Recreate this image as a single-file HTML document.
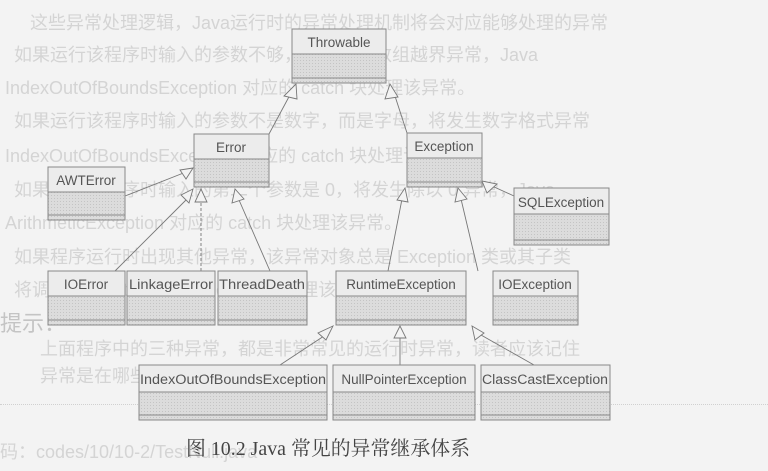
<!DOCTYPE html>
<html><head><meta charset="utf-8"><style>
html,body{margin:0;padding:0}
body{width:768px;height:471px;background:#f3f3f3;position:relative;overflow:hidden;font-family:"Liberation Sans","Noto Sans CJK SC",sans-serif}
.bg{position:absolute;left:0;color:#d4d4d4;font-size:18px;white-space:nowrap;font-family:"Liberation Sans","Noto Sans CJK SC",sans-serif}
svg{position:absolute;left:0;top:0}
</style></head><body>
<div class="bg" style="top:9px;left:30px">这些异常处理逻辑，Java运行时的异常处理机制将会对应能够处理的异常</div>
<div class="bg" style="top:41px;left:14px">如果运行该程序时输入的参数不够，将会发生数组越界异常，Java</div>
<div class="bg" style="top:74px;left:5px">IndexOutOfBoundsException 对应的 catch 块处理该异常。</div>
<div class="bg" style="top:107px;left:14px">如果运行该程序时输入的参数不是数字，而是字母，将发生数字格式异常</div>
<div class="bg" style="top:142px;left:5px">IndexOutOfBoundsException 对应的 catch 块处理该异常。</div>
<div class="bg" style="top:176px;left:14px">如果运行该程序时输入的第二个参数是 0，将发生除以 0 异常，Java</div>
<div class="bg" style="top:209px;left:5px">ArithmeticException 对应的 catch 块处理该异常。</div>
<div class="bg" style="top:243px;left:14px">如果程序运行时出现其他异常，该异常对象总是 Exception 类或其子类</div>
<div class="bg" style="top:276px;left:14px">将调用 Exception 对应的 catch 块处理该异常。</div>
<div class="bg" style="top:306px;left:0px;font-size:22px;color:#c4c4c4">提示：</div>
<div class="bg" style="top:335px;left:40px">上面程序中的三种异常，都是非常常见的运行时异常，读者应该记住</div>
<div class="bg" style="top:362px;left:40px">异常是在哪些情况下出现的。</div>
<div class="bg" style="top:438px;left:0px">码：codes/10/10-2/TestNull.java</div>
<div style="position:absolute;left:0;top:404px;width:768px;border-top:1px dotted #d0d0d0"></div>
<svg width="768" height="471" viewBox="0 0 768 471">
<defs>
<pattern id="h" width="3" height="3" patternUnits="userSpaceOnUse"><rect width="3" height="3" fill="#dcdcdc"/><rect width="1" height="1" fill="#c4c4c4"/></pattern>
</defs>
<g stroke="#777" stroke-width="0.9" fill="none">
<line x1="269" y1="134" x2="291" y2="93"/>
<line x1="407" y1="133" x2="394" y2="93"/>
<line x1="125" y1="196" x2="186" y2="172"/>
<line x1="115" y1="271" x2="187" y2="199"/>
<line x1="201" y1="271" x2="201" y2="200" stroke-dasharray="3,2"/>
<line x1="270" y1="271" x2="239" y2="200"/>
<line x1="388" y1="271" x2="402" y2="199"/>
<line x1="478" y1="271" x2="461" y2="199"/>
<line x1="514" y1="196" x2="492" y2="186"/>
<line x1="280" y1="365" x2="324" y2="336"/>
<line x1="400" y1="365" x2="400" y2="337"/>
<line x1="534" y1="365" x2="481" y2="335"/>
</g>
<g stroke="#777" stroke-width="0.9" fill="#f3f3f3">
<polygon points="296,84 284,96 297,99"/>
<polygon points="390,84 385,99 398,97"/>
<polygon points="193,168 180,170 186,179"/>
<polygon points="193,189 181,195 189,203"/>
<polygon points="201,189 195,202 207,202"/>
<polygon points="235,189 232,203 244,199"/>
<polygon points="405,188 397,200 408,202"/>
<polygon points="458,188 455,202 467,199"/>
<polygon points="482,181 487,193 497,184"/>
<polygon points="333,326 318,333 326,340"/>
<polygon points="400,326 394,338 406,338"/>
<polygon points="472,326 475,340 484,333"/>
</g>
<g font-family="Liberation Sans, sans-serif" font-size="13.5" fill="#555">
<g stroke="#888" stroke-width="1">
<rect x="292" y="29" width="94" height="54" fill="url(#h)"/><rect x="292" y="29" width="94" height="25" fill="#ececec"/><line x1="292" y1="78" x2="386" y2="78"/>
<rect x="194" y="134" width="75" height="53" fill="url(#h)"/><rect x="194" y="134" width="75" height="25" fill="#ececec"/><line x1="194" y1="182" x2="269" y2="182"/>
<rect x="407" y="133" width="75" height="54" fill="url(#h)"/><rect x="407" y="133" width="75" height="25" fill="#ececec"/><line x1="407" y1="182" x2="482" y2="182"/>
<rect x="48" y="167" width="77" height="53" fill="url(#h)"/><rect x="48" y="167" width="77" height="25" fill="#ececec"/><line x1="48" y1="215" x2="125" y2="215"/>
<rect x="514" y="188" width="95" height="57" fill="url(#h)"/><rect x="514" y="188" width="95" height="26" fill="#ececec"/><line x1="514" y1="240" x2="609" y2="240"/>
<rect x="48" y="271" width="77" height="54" fill="url(#h)"/><rect x="48" y="271" width="77" height="25" fill="#ececec"/><line x1="48" y1="320" x2="125" y2="320"/>
<rect x="127" y="271" width="88" height="54" fill="url(#h)"/><rect x="127" y="271" width="88" height="25" fill="#ececec"/><line x1="127" y1="320" x2="215" y2="320"/>
<rect x="218" y="271" width="89" height="54" fill="url(#h)"/><rect x="218" y="271" width="89" height="25" fill="#ececec"/><line x1="218" y1="320" x2="307" y2="320"/>
<rect x="336" y="271" width="130" height="54" fill="url(#h)"/><rect x="336" y="271" width="130" height="25" fill="#ececec"/><line x1="336" y1="320" x2="466" y2="320"/>
<rect x="493" y="271" width="85" height="54" fill="url(#h)"/><rect x="493" y="271" width="85" height="25" fill="#ececec"/><line x1="493" y1="320" x2="578" y2="320"/>
<rect x="139" y="365" width="188" height="55" fill="url(#h)"/><rect x="139" y="365" width="188" height="27" fill="#ececec"/><line x1="139" y1="415" x2="327" y2="415"/>
<rect x="333" y="365" width="142" height="55" fill="url(#h)"/><rect x="333" y="365" width="142" height="27" fill="#ececec"/><line x1="333" y1="415" x2="475" y2="415"/>
<rect x="481" y="365" width="129" height="55" fill="url(#h)"/><rect x="481" y="365" width="129" height="27" fill="#ececec"/><line x1="481" y1="415" x2="610" y2="415"/>
</g>
<text x="339" y="47" text-anchor="middle">Throwable</text>
<text x="231" y="152" text-anchor="middle">Error</text>
<text x="444" y="151" text-anchor="middle">Exception</text>
<text x="86" y="185" text-anchor="middle">AWTError</text>
<text x="561" y="207" text-anchor="middle">SQLException</text>
<text x="86" y="289" text-anchor="middle">IOError</text>
<text x="171" y="289" text-anchor="middle" textLength="84" lengthAdjust="spacingAndGlyphs">LinkageError</text>
<text x="262" y="289" text-anchor="middle" textLength="86" lengthAdjust="spacingAndGlyphs">ThreadDeath</text>
<text x="401" y="289" text-anchor="middle">RuntimeException</text>
<text x="535" y="289" text-anchor="middle">IOException</text>
<text x="233" y="384" text-anchor="middle" textLength="186" lengthAdjust="spacingAndGlyphs">IndexOutOfBoundsException</text>
<text x="404" y="384" text-anchor="middle">NullPointerException</text>
<text x="545" y="384" text-anchor="middle" textLength="126" lengthAdjust="spacingAndGlyphs">ClassCastException</text>
</g>
<text x="186" y="455" font-family="Liberation Serif, Noto Serif CJK SC, serif" font-size="20" fill="#444" textLength="284" lengthAdjust="spacingAndGlyphs">图 10.2 Java 常见的异常继承体系</text>
</svg>
</body></html>
